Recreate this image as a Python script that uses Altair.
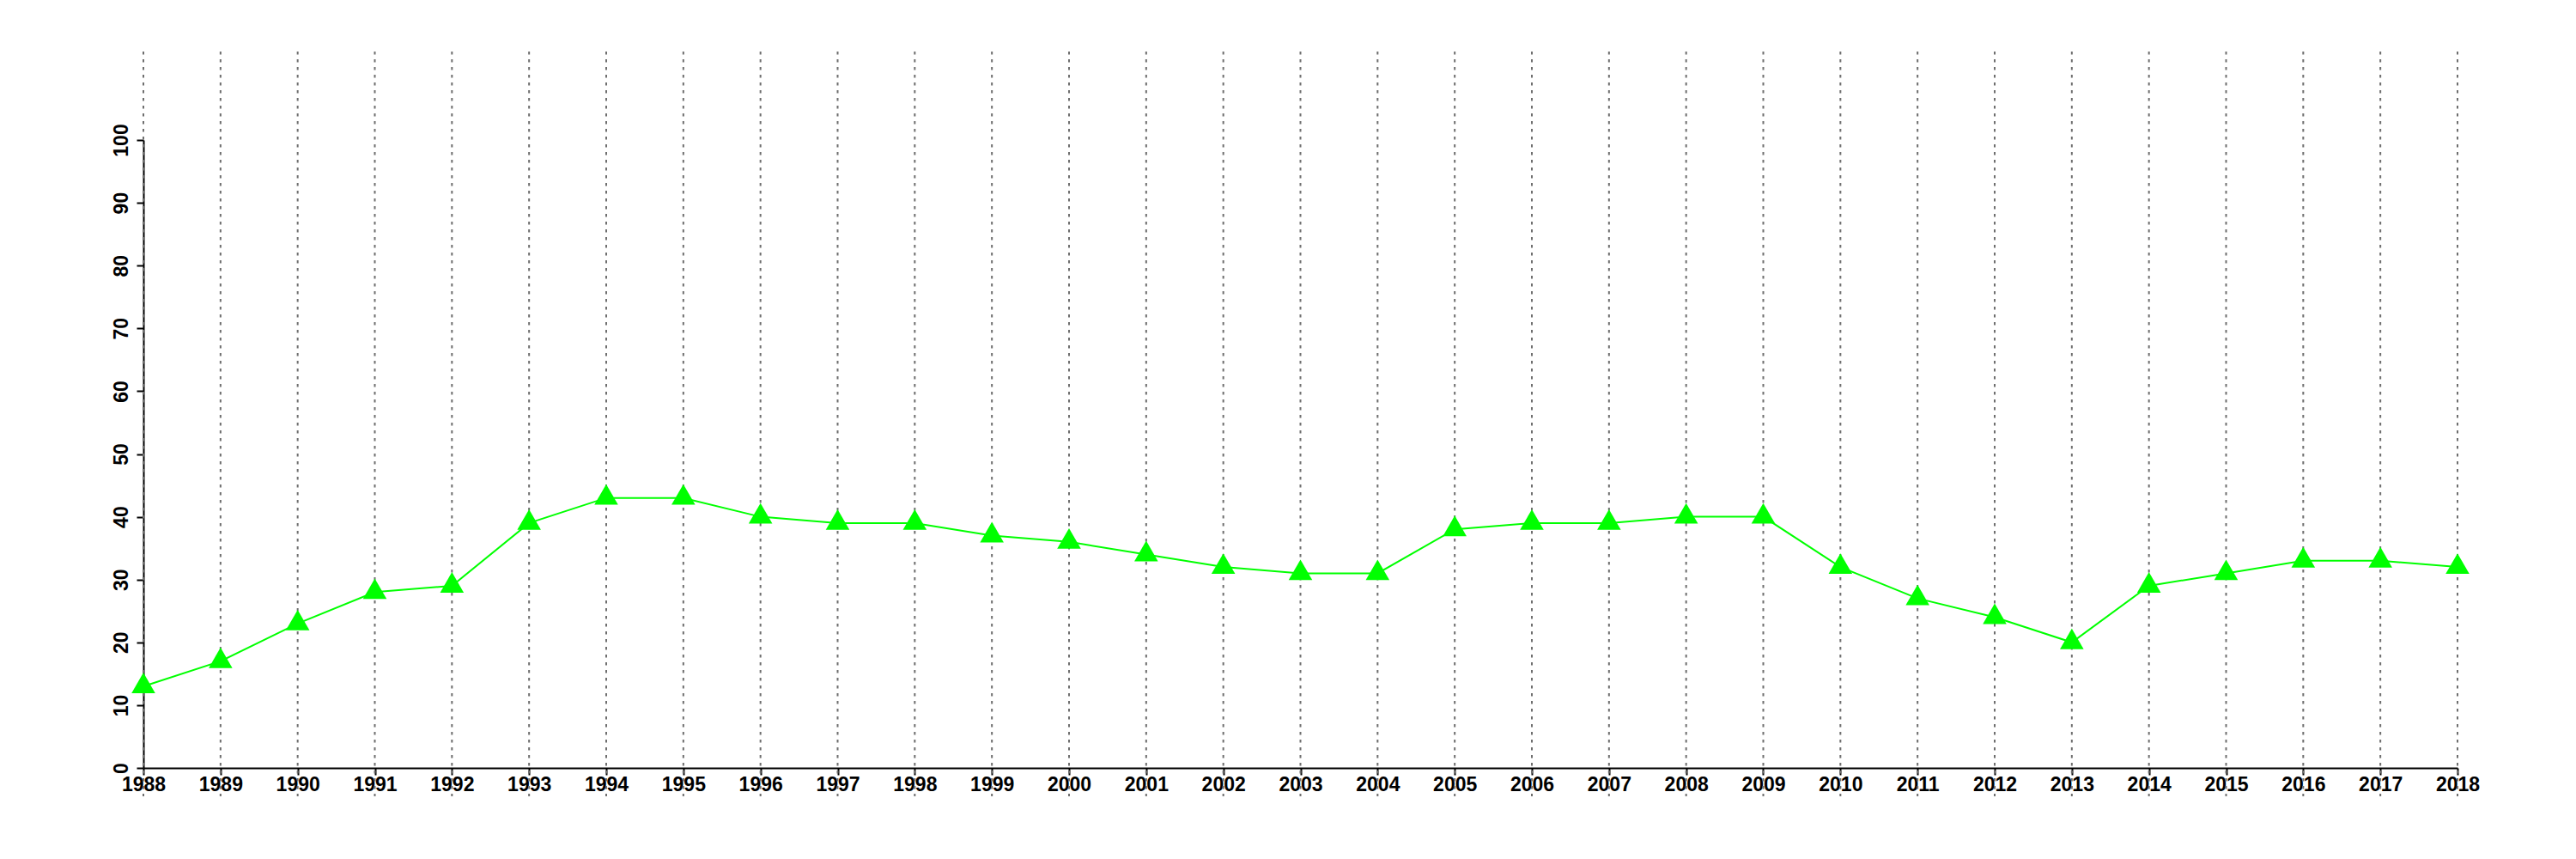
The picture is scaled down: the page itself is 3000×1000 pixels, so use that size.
import altair as alt
import pandas as pd

years = [1988, 1989, 1990, 1991, 1992, 1993, 1994, 1995, 1996, 1997, 1998,
         1999, 2000, 2001, 2002, 2003, 2004, 2005, 2006, 2007, 2008, 2009,
         2010, 2011, 2012, 2013, 2014, 2015, 2016, 2017, 2018]
values = [13, 17, 23, 28, 29, 39, 43, 43, 40, 39, 39,
          37, 36, 34, 32, 31, 31, 38, 39, 39, 40, 40,
          32, 27, 24, 20, 29, 31, 33, 33, 32]
y_ticks = [0, 10, 20, 30, 40, 50, 60, 70, 80, 90, 100]
grid_top = 114.1
grid_bottom = -4.5

df = pd.DataFrame({"year": years, "value": values})

font = "Liberation Sans"
x_scale = alt.Scale(domain=[1988, 2018], nice=False, zero=False)
y_scale = alt.Scale(domain=[0, 100], nice=False, zero=False)

x_axis = alt.Axis(values=years, format="d", title=None, grid=False,
                  labelFont=font, labelFontSize=23, labelFontWeight="bold",
                  labelColor="black", labelPadding=0, labelFlush=False,
                  labelOverlap=False, domainColor="black", domainWidth=2,
                  tickColor="black", tickWidth=2, tickSize=8)
y_axis = alt.Axis(values=y_ticks, title=None, grid=False,
                  labelFont=font, labelFontSize=23, labelFontWeight="bold",
                  labelColor="black", labelAngle=270, labelAlign="center",
                  labelBaseline="bottom", labelPadding=6, labelFlush=False,
                  labelOverlap=False, domainColor="black", domainWidth=2,
                  tickColor="black", tickWidth=2, tickSize=8)

grid = alt.Chart(df).mark_rule(color="#6e6e6e", strokeWidth=2,
                               strokeDash=[3.5, 5.5], clip=False).encode(
    x=alt.X("year:Q", scale=x_scale, axis=x_axis),
    y=alt.datum(grid_top, type="quantitative", scale=y_scale, axis=y_axis),
    y2=alt.datum(grid_bottom),
)

line = alt.Chart(df).mark_line(color="#00ff00", strokeWidth=2).encode(
    x=alt.X("year:Q", scale=x_scale, axis=x_axis),
    y=alt.Y("value:Q", scale=y_scale, axis=y_axis),
)

points = alt.Chart(df).mark_point(shape="triangle-up", filled=True, size=760,
                                  color="#00ff00", opacity=1, yOffset=-4).encode(
    x=alt.X("year:Q", scale=x_scale, axis=x_axis),
    y=alt.Y("value:Q", scale=y_scale, axis=y_axis),
)

chart = alt.layer(grid, line, points).properties(
    width=2695,
    height=731,
    autosize=alt.AutoSizeParams(type="none"),
    padding={"left": 159, "top": 155, "right": 110, "bottom": 90},
).configure_view(stroke=None)

chart.save("out.html", embed_options={"renderer": "svg", "actions": False})
